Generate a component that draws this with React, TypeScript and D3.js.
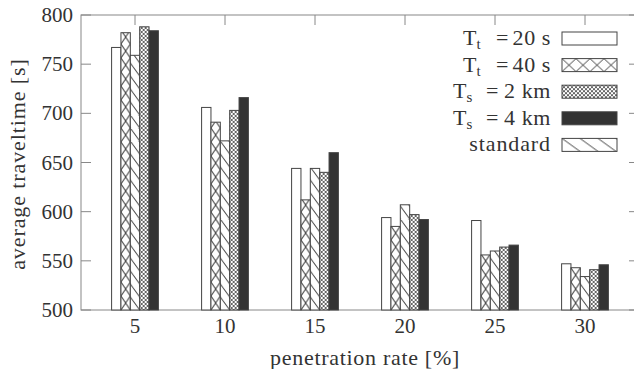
import React from "react";
import * as d3 from "d3";

const categories = [5, 10, 15, 20, 25, 30];
const tt20 = [767, 706, 644, 594, 591, 547];
const tt40 = [782, 691, 612, 585, 556, 543];
const standard = [759, 672, 644, 607, 560, 534];
const ts2 = [788, 703, 640, 597, 564, 541];
const ts4 = [784, 716, 660, 592, 566, 546];
const yTicks = [500, 550, 600, 650, 700, 750, 800];
const legendSyms = ["t", "t", "s", "s", ""];
const legendVals = ["20 s", "40 s", "2 km", "4 km", "standard"];

const W = 634;
const H = 369;
const FONT = "'Liberation Serif', 'DejaVu Serif', 'Times New Roman', serif";
const TXT = "#333";
const AX = "#888";

const xs = d3.scaleLinear().domain([2, 33]).range([81, 639]);
const ys = d3.scaleLinear().domain([500, 800]).range([310, 15]);

const BAR_U = 0.52;

type PatType = "white" | "cross" | "diag" | "fine" | "solid";
const seriesTypes: PatType[] = ["white", "cross", "diag", "fine", "solid"];
const seriesValues = [tt20, tt40, standard, ts2, ts4];
const legendTypes: PatType[] = ["white", "cross", "fine", "solid", "diag"];

function patternDef(id: string, type: PatType, x: number, y: number, w: number, h: number) {
  if (type === "cross") {
    return (
      <pattern key={id} id={id} patternUnits="userSpaceOnUse" x={x} y={y} width={w} height={h}>
        <rect width={w} height={h} fill="#fff" />
        <line x1={0} y1={0} x2={w} y2={h} stroke="#444" strokeWidth={1} />
        <line x1={w} y1={0} x2={0} y2={h} stroke="#444" strokeWidth={1} />
      </pattern>
    );
  }
  if (type === "diag") {
    return (
      <pattern key={id} id={id} patternUnits="userSpaceOnUse" x={x} y={y} width={w} height={h}>
        <rect width={w} height={h} fill="#fff" />
        <line x1={0} y1={0} x2={w} y2={h} stroke="#444" strokeWidth={1} />
        <line x1={-w} y1={0} x2={w} y2={2 * h} stroke="#444" strokeWidth={1} />
        <line x1={0} y1={-h} x2={2 * w} y2={h} stroke="#444" strokeWidth={1} />
      </pattern>
    );
  }
  if (type === "fine") {
    return (
      <pattern key={id} id={id} patternUnits="userSpaceOnUse" x={x} y={y} width={4} height={4}>
        <rect width={4} height={4} fill="#fff" />
        <path d="M0,0 L4,4 M4,0 L0,4" stroke="#555" strokeWidth={0.9} />
      </pattern>
    );
  }
  return null;
}

function fillFor(type: PatType, id: string) {
  if (type === "white") return "#fff";
  if (type === "solid") return "#333";
  return `url(#${id})`;
}

export default function App() {
  const barW = xs(BAR_U) - xs(0);
  const defs: React.ReactNode[] = [];
  const bars: React.ReactNode[] = [];
  categories.forEach((c, ci) => {
    seriesTypes.forEach((t, si) => {
      const v = seriesValues[si][ci];
      const x0 = xs(c - (BAR_U * 5) / 2 + si * BAR_U);
      const y0 = ys(v);
      const id = `p-${ci}-${si}`;
      const pd = patternDef(id, t, x0, ys(500), barW, t === "cross" ? 14 : 13);
      if (pd) defs.push(pd);
      bars.push(
        <rect key={id} x={x0} y={y0} width={barW} height={ys(500) - y0}
          fill={fillFor(t, id)} stroke="#444" strokeWidth={1} />
      );
    });
  });

  const legX = 562;
  const legW = 55;
  const legTop = 32;
  const legStep = 26.6;
  const legH = 13;
  legendTypes.forEach((t, i) => {
    const id = `leg-${i}`;
    const pd = patternDef(id, t, legX, legTop + i * legStep, t === "diag" ? 18 : 14, legH);
    if (pd) defs.push(pd);
  });

  const fs = 21;
  const fw = 22;
  const ls = 0.9;
  const textEnd = 551;

  return (
    <svg width={W} height={H} style={{ position: "absolute", left: 0, top: 0, background: "#fff", fontFamily: FONT }}>
      <defs>{defs}</defs>
      <rect width={W} height={H} fill="#fff" />
      <rect x={xs(2)} y={ys(800)} width={xs(33) - xs(2)} height={ys(500) - ys(800)} fill="none" stroke={AX} strokeWidth={1} />
      {yTicks.map((t) => (
        <g key={t}>
          <line x1={xs(2)} x2={xs(2) + 10} y1={ys(t)} y2={ys(t)} stroke={AX} />
          <line x1={xs(33) - 10} x2={xs(33)} y1={ys(t)} y2={ys(t)} stroke={AX} />
          <text x={73} y={ys(t) + 7} textAnchor="end" fontSize={fs} fill={TXT} style={{ fontFamily: FONT }}>{t}</text>
        </g>
      ))}
      {categories.map((c) => (
        <g key={c}>
          <line x1={xs(c)} x2={xs(c)} y1={ys(800)} y2={ys(800) + 10} stroke={AX} />
          <line x1={xs(c)} x2={xs(c)} y1={ys(500)} y2={ys(500) - 10} stroke={AX} />
          <text x={xs(c)} y={333} textAnchor="middle" fontSize={fs} fill={TXT} style={{ fontFamily: FONT }}>{c}</text>
        </g>
      ))}
      {bars}
      {legendTypes.map((t, i) => {
        const y = legTop + i * legStep;
        const base = y + 13;
        const sym = legendSyms[i];
        const isKm = sym === "s";
        const tx = isKm ? 453 : 463;
        return (
          <g key={i} fill={TXT} style={{ fontFamily: FONT }}>
            {sym ? (
              <>
                <text x={tx} y={base} fontSize={fw}>T</text>
                <text x={tx + 13.5} y={base + 4} fontSize={15}>{sym}</text>
                <text x={tx + 33} y={base} fontSize={fw}>=</text>
                <text x={textEnd} y={base} fontSize={fw} textAnchor="end"
                  style={{ fontFamily: FONT, letterSpacing: "0.6px" }}>{legendVals[i]}</text>
              </>
            ) : (
              <text x={textEnd} y={base} fontSize={fw} textAnchor="end"
                style={{ fontFamily: FONT, letterSpacing: `${ls}px` }}>{legendVals[i]}</text>
            )}
            <rect x={legX} y={y} width={legW} height={legH} fill={fillFor(t, `leg-${i}`)} stroke="#444" strokeWidth={1} />
          </g>
        );
      })}
      <text x={365} y={365} textAnchor="middle" fontSize={fw} fill={TXT}
        style={{ fontFamily: FONT, letterSpacing: "0.7px" }}>
        penetration rate [%]
      </text>
      <text transform="translate(25,164) rotate(-90)" textAnchor="middle" fontSize={fw} fill={TXT}
        style={{ fontFamily: FONT, letterSpacing: `${ls}px` }}>
        average traveltime [s]
      </text>
    </svg>
  );
}
